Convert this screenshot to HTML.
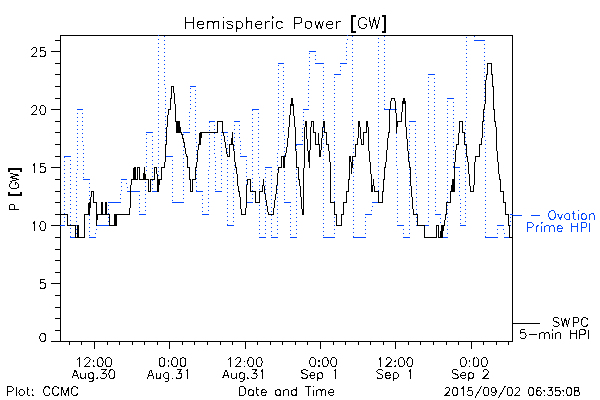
<!DOCTYPE html><html><head><meta charset="utf-8"><style>html,body{margin:0;padding:0;background:#fff}svg{display:block}</style></head><body><svg width="600" height="400" viewBox="0 0 600 400" shape-rendering="crispEdges">
<rect width="600" height="400" fill="#fff"/>
<g fill="none" stroke="#000" stroke-width="1">
<path d="M60.5 35.5 H512.5 V341.5 H60.5 Z"/>
<path d="M60.5 341.5 H51.0 M60.5 330.5 H55.0 M60.5 318.5 H55.0 M60.5 307.5 H55.0 M60.5 295.5 H55.0 M60.5 283.5 H51.0 M60.5 272.5 H55.0 M60.5 260.5 H55.0 M60.5 249.5 H55.0 M60.5 237.5 H55.0 M60.5 225.5 H51.0 M60.5 214.5 H55.0 M60.5 202.5 H55.0 M60.5 191.5 H55.0 M60.5 179.5 H55.0 M60.5 167.5 H51.0 M60.5 156.5 H55.0 M60.5 144.5 H55.0 M60.5 132.5 H55.0 M60.5 121.5 H55.0 M60.5 109.5 H51.0 M60.5 98.5 H55.0 M60.5 86.5 H55.0 M60.5 74.5 H55.0 M60.5 63.5 H55.0 M60.5 51.5 H51.0 M60.5 40.5 H55.0"/>
<path d="M69.5 341.5 V345.0 M81.5 341.5 V345.0 M94.5 341.5 V349.0 M107.5 341.5 V345.0 M119.5 341.5 V345.0 M132.5 341.5 V345.0 M144.5 341.5 V345.0 M157.5 341.5 V345.0 M169.5 341.5 V349.0 M182.5 341.5 V345.0 M194.5 341.5 V345.0 M207.5 341.5 V345.0 M220.5 341.5 V345.0 M232.5 341.5 V345.0 M245.5 341.5 V349.0 M257.5 341.5 V345.0 M270.5 341.5 V345.0 M282.5 341.5 V345.0 M295.5 341.5 V345.0 M307.5 341.5 V345.0 M320.5 341.5 V349.0 M333.5 341.5 V345.0 M345.5 341.5 V345.0 M358.5 341.5 V345.0 M370.5 341.5 V345.0 M383.5 341.5 V345.0 M395.5 341.5 V349.0 M408.5 341.5 V345.0 M420.5 341.5 V345.0 M433.5 341.5 V345.0 M446.5 341.5 V345.0 M458.5 341.5 V345.0 M471.5 341.5 V349.0 M483.5 341.5 V345.0 M496.5 341.5 V345.0 M508.5 341.5 V345.0"/>
</g>
<defs><clipPath id="cp"><rect x="60" y="35" width="453" height="307"/></clipPath></defs>
<g clip-path="url(#cp)" fill="none" stroke="#0548ff" stroke-width="1">
<path d="M60.0 225.5 H65.0 M64.0 156.5 H71.0 M70.0 237.5 H77.0 M77.0 109.5 H83.0 M83.0 179.5 H90.0 M89.0 237.5 H96.0 M96.0 225.5 H109.0 M108.0 202.5 H121.0 M121.0 179.5 H127.0 M127.0 191.5 H140.0 M139.0 214.5 H146.0 M146.0 132.5 H153.0 M152.0 191.5 H159.0 M158.0 16.5 H165.0 M165.0 156.5 H173.0 M172.0 202.5 H184.0 M183.0 132.5 H190.0 M190.0 86.5 H196.0 M196.0 191.5 H203.0 M202.0 214.5 H209.0 M209.0 121.5 H215.0 M215.0 191.5 H222.0 M221.0 132.5 H228.0 M227.0 225.5 H234.0 M234.0 121.5 H240.0 M240.0 156.5 H247.0 M246.0 202.5 H253.0 M252.0 109.5 H259.0 M259.0 237.5 H266.0 M265.0 167.5 H272.0 M271.0 237.5 H278.0 M278.0 63.5 H284.0 M284.0 202.5 H291.0 M290.0 237.5 H297.0 M296.0 144.5 H303.0 M303.0 109.5 H309.0 M309.0 51.5 H316.0 M315.0 63.5 H324.0 M323.0 237.5 H335.0 M334.0 74.5 H341.0 M340.0 63.5 H347.0 M347.0 16.5 H353.0 M353.0 237.5 H366.0 M365.0 214.5 H372.0 M372.0 202.5 H379.0 M378.0 16.5 H385.0 M384.0 109.5 H397.0 M397.0 225.5 H404.0 M403.0 237.5 H410.0 M409.0 121.5 H416.0 M416.0 225.5 H429.0 M428.0 74.5 H435.0 M435.0 214.5 H441.0 M441.0 237.5 H448.0 M447.0 98.5 H454.0 M453.0 167.5 H460.0 M460.0 225.5 H466.0 M466.0 16.5 H475.0 M474.0 40.5 H485.0 M485.0 237.5 H498.0 M497.0 225.5 H504.0 M504.0 237.5 H510.0 M510.0 214.5 H513.0"/>
<path d="M64.5 226.0 L64.5 156.5" stroke-dasharray="1 3"/>
<path d="M70.5 156.0 L70.5 237.5" stroke-dasharray="1 3"/>
<path d="M76.5 238.0 L77.5 109.5" stroke-dasharray="1 3"/>
<path d="M82.5 109.0 L83.5 179.5" stroke-dasharray="1 3"/>
<path d="M89.5 179.0 L89.5 237.5" stroke-dasharray="1 3"/>
<path d="M95.5 238.0 L96.5 225.5" stroke-dasharray="1 3"/>
<path d="M108.5 226.0 L108.5 202.5" stroke-dasharray="1 3"/>
<path d="M120.5 203.0 L121.5 179.5" stroke-dasharray="1 3"/>
<path d="M126.5 179.0 L127.5 191.5" stroke-dasharray="1 3"/>
<path d="M139.5 191.0 L139.5 214.5" stroke-dasharray="1 3"/>
<path d="M145.5 215.0 L146.5 132.5" stroke-dasharray="1 3"/>
<path d="M152.5 132.0 L152.5 191.5" stroke-dasharray="1 3"/>
<path d="M158.5 192.0 L158.5 16.5" stroke-dasharray="1 3"/>
<path d="M164.5 16.0 L165.5 156.5" stroke-dasharray="1 3"/>
<path d="M172.5 156.0 L172.5 202.5" stroke-dasharray="1 3"/>
<path d="M183.5 203.0 L183.5 132.5" stroke-dasharray="1 3"/>
<path d="M189.5 133.0 L190.5 86.5" stroke-dasharray="1 3"/>
<path d="M195.5 86.0 L196.5 191.5" stroke-dasharray="1 3"/>
<path d="M202.5 191.0 L202.5 214.5" stroke-dasharray="1 3"/>
<path d="M208.5 215.0 L209.5 121.5" stroke-dasharray="1 3"/>
<path d="M214.5 121.0 L215.5 191.5" stroke-dasharray="1 3"/>
<path d="M221.5 192.0 L221.5 132.5" stroke-dasharray="1 3"/>
<path d="M227.5 132.0 L227.5 225.5" stroke-dasharray="1 3"/>
<path d="M233.5 226.0 L234.5 121.5" stroke-dasharray="1 3"/>
<path d="M239.5 121.0 L240.5 156.5" stroke-dasharray="1 3"/>
<path d="M246.5 156.0 L246.5 202.5" stroke-dasharray="1 3"/>
<path d="M252.5 203.0 L252.5 109.5" stroke-dasharray="1 3"/>
<path d="M258.5 109.0 L259.5 237.5" stroke-dasharray="1 3"/>
<path d="M265.5 238.0 L265.5 167.5" stroke-dasharray="1 3"/>
<path d="M271.5 167.0 L271.5 237.5" stroke-dasharray="1 3"/>
<path d="M277.5 238.0 L278.5 63.5" stroke-dasharray="1 3"/>
<path d="M283.5 63.0 L284.5 202.5" stroke-dasharray="1 3"/>
<path d="M290.5 202.0 L290.5 237.5" stroke-dasharray="1 3"/>
<path d="M296.5 238.0 L296.5 144.5" stroke-dasharray="1 3"/>
<path d="M302.5 145.0 L303.5 109.5" stroke-dasharray="1 3"/>
<path d="M308.5 110.0 L309.5 51.5" stroke-dasharray="1 3"/>
<path d="M315.5 51.0 L315.5 63.5" stroke-dasharray="1 3"/>
<path d="M323.5 63.0 L323.5 237.5" stroke-dasharray="1 3"/>
<path d="M334.5 238.0 L334.5 74.5" stroke-dasharray="1 3"/>
<path d="M340.5 75.0 L340.5 63.5" stroke-dasharray="1 3"/>
<path d="M346.5 64.0 L347.5 16.5" stroke-dasharray="1 3"/>
<path d="M352.5 16.0 L353.5 237.5" stroke-dasharray="1 3"/>
<path d="M365.5 238.0 L365.5 214.5" stroke-dasharray="1 3"/>
<path d="M371.5 215.0 L372.5 202.5" stroke-dasharray="1 3"/>
<path d="M378.5 203.0 L378.5 16.5" stroke-dasharray="1 3"/>
<path d="M384.5 16.0 L384.5 109.5" stroke-dasharray="1 3"/>
<path d="M396.5 109.0 L397.5 225.5" stroke-dasharray="1 3"/>
<path d="M403.5 225.0 L403.5 237.5" stroke-dasharray="1 3"/>
<path d="M409.5 238.0 L409.5 121.5" stroke-dasharray="1 3"/>
<path d="M415.5 121.0 L416.5 225.5" stroke-dasharray="1 3"/>
<path d="M428.5 226.0 L428.5 74.5" stroke-dasharray="1 3"/>
<path d="M434.5 74.0 L435.5 214.5" stroke-dasharray="1 3"/>
<path d="M440.5 214.0 L441.5 237.5" stroke-dasharray="1 3"/>
<path d="M447.5 238.0 L447.5 98.5" stroke-dasharray="1 3"/>
<path d="M453.5 98.0 L453.5 167.5" stroke-dasharray="1 3"/>
<path d="M459.5 167.0 L460.5 225.5" stroke-dasharray="1 3"/>
<path d="M465.5 226.0 L466.5 16.5" stroke-dasharray="1 3"/>
<path d="M474.5 16.0 L474.5 40.5" stroke-dasharray="1 3"/>
<path d="M484.5 40.0 L485.5 237.5" stroke-dasharray="1 3"/>
<path d="M497.5 238.0 L497.5 225.5" stroke-dasharray="1 3"/>
<path d="M503.5 225.0 L504.5 237.5" stroke-dasharray="1 3"/>
<path d="M509.5 238.0 L510.5 214.5" stroke-dasharray="1 3"/>
</g>
<g clip-path="url(#cp)" fill="none" stroke="#000" stroke-width="1" stroke-linejoin="miter">
<path d="M60.5 214.5 L67.5 214.5 L67.5 225.5 L68.5 225.5 L74.5 225.5 L75.5 225.5 L75.5 237.5 L76.5 237.5 L77.5 237.5 L77.5 225.5 L78.5 225.5 L78.5 237.5 L79.5 237.5 L84.5 237.5 L84.5 214.5 L85.5 214.5 L88.5 214.5 L88.5 202.5 L88.5 214.5 L89.5 202.5 L89.5 214.5 L90.5 202.5 L91.5 191.5 L93.5 191.5 L93.5 202.5 L96.5 202.5 L96.5 225.5 L97.5 214.5 L101.5 214.5 L101.5 202.5 L102.5 202.5 L102.5 214.5 L103.5 214.5 L104.5 214.5 L105.5 214.5 L105.5 202.5 L106.5 202.5 L106.5 214.5 L107.5 214.5 L108.5 214.5 L109.5 214.5 L109.5 225.5 L114.5 225.5 L114.5 214.5 L115.5 225.5 L115.5 214.5 L116.5 225.5 L116.5 214.5 L117.5 214.5 L129.5 214.5 L130.5 202.5 L130.5 191.5 L131.5 179.5 L133.5 179.5 L133.5 167.5 L133.5 179.5 L134.5 167.5 L134.5 179.5 L134.5 167.5 L135.5 167.5 L135.5 179.5 L136.5 179.5 L137.5 179.5 L137.5 167.5 L139.5 167.5 L139.5 179.5 L140.5 179.5 L143.5 179.5 L143.5 173.5 L144.5 179.5 L144.5 167.5 L145.5 179.5 L147.5 179.5 L148.5 179.5 L148.5 191.5 L150.5 191.5 L150.5 179.5 L151.5 179.5 L153.5 179.5 L154.5 179.5 L154.5 167.5 L156.5 167.5 L157.5 179.5 L157.5 191.5 L158.5 179.5 L158.5 191.5 L159.5 179.5 L161.5 179.5 L161.5 167.5 L164.5 167.5 L165.5 156.5 L165.5 144.5 L166.5 144.5 L166.5 132.5 L167.5 121.5 L168.5 109.5 L169.5 109.5 L170.5 109.5 L170.5 98.5 L171.5 98.5 L171.5 86.5 L173.5 86.5 L174.5 98.5 L175.5 109.5 L175.5 121.5 L176.5 121.5 L176.5 132.5 L176.5 121.5 L177.5 132.5 L177.5 121.5 L178.5 132.5 L178.5 121.5 L179.5 132.5 L179.5 121.5 L180.5 132.5 L181.5 132.5 L184.5 144.5 L186.5 156.5 L187.5 156.5 L187.5 167.5 L188.5 167.5 L189.5 167.5 L189.5 179.5 L190.5 179.5 L190.5 191.5 L192.5 191.5 L192.5 179.5 L193.5 179.5 L194.5 179.5 L195.5 179.5 L195.5 167.5 L196.5 167.5 L197.5 156.5 L198.5 144.5 L199.5 144.5 L199.5 132.5 L199.5 144.5 L200.5 132.5 L200.5 144.5 L201.5 132.5 L216.5 132.5 L217.5 132.5 L217.5 121.5 L222.5 121.5 L222.5 132.5 L223.5 132.5 L225.5 144.5 L227.5 156.5 L229.5 156.5 L229.5 144.5 L231.5 144.5 L232.5 132.5 L232.5 144.5 L233.5 144.5 L234.5 156.5 L235.5 167.5 L236.5 167.5 L237.5 179.5 L238.5 191.5 L239.5 191.5 L240.5 202.5 L241.5 214.5 L245.5 214.5 L246.5 202.5 L246.5 191.5 L247.5 179.5 L250.5 179.5 L250.5 191.5 L254.5 191.5 L255.5 191.5 L255.5 202.5 L259.5 202.5 L259.5 191.5 L262.5 191.5 L263.5 179.5 L264.5 191.5 L266.5 202.5 L268.5 214.5 L273.5 214.5 L274.5 202.5 L276.5 191.5 L277.5 179.5 L278.5 167.5 L281.5 167.5 L281.5 156.5 L283.5 156.5 L283.5 167.5 L284.5 167.5 L284.5 156.5 L285.5 156.5 L287.5 144.5 L288.5 132.5 L289.5 121.5 L290.5 109.5 L291.5 98.5 L291.5 105.5 L292.5 98.5 L292.5 105.5 L292.5 98.5 L293.5 109.5 L294.5 121.5 L295.5 132.5 L295.5 144.5 L296.5 156.5 L296.5 167.5 L298.5 167.5 L298.5 179.5 L299.5 179.5 L300.5 191.5 L301.5 202.5 L302.5 214.5 L303.5 214.5 L303.5 202.5 L303.5 179.5 L304.5 156.5 L304.5 132.5 L305.5 121.5 L306.5 121.5 L306.5 132.5 L307.5 144.5 L308.5 156.5 L309.5 167.5 L309.5 156.5 L310.5 144.5 L310.5 132.5 L311.5 121.5 L313.5 121.5 L313.5 132.5 L315.5 132.5 L315.5 144.5 L318.5 144.5 L318.5 132.5 L318.5 144.5 L319.5 144.5 L319.5 156.5 L320.5 156.5 L321.5 144.5 L322.5 132.5 L323.5 121.5 L324.5 121.5 L324.5 132.5 L325.5 132.5 L326.5 132.5 L326.5 144.5 L327.5 144.5 L328.5 144.5 L329.5 156.5 L330.5 167.5 L330.5 179.5 L330.5 202.5 L334.5 202.5 L334.5 214.5 L336.5 214.5 L336.5 225.5 L341.5 225.5 L341.5 214.5 L343.5 214.5 L343.5 202.5 L346.5 202.5 L346.5 191.5 L348.5 191.5 L348.5 179.5 L349.5 179.5 L349.5 167.5 L349.5 156.5 L350.5 156.5 L351.5 167.5 L351.5 173.5 L351.5 167.5 L352.5 167.5 L352.5 156.5 L354.5 156.5 L355.5 156.5 L355.5 144.5 L357.5 144.5 L358.5 132.5 L358.5 121.5 L359.5 121.5 L360.5 132.5 L361.5 144.5 L363.5 144.5 L363.5 132.5 L364.5 132.5 L366.5 132.5 L366.5 121.5 L367.5 121.5 L368.5 132.5 L368.5 144.5 L369.5 156.5 L370.5 167.5 L371.5 179.5 L371.5 191.5 L371.5 184.5 L372.5 191.5 L372.5 184.5 L372.5 191.5 L373.5 179.5 L374.5 191.5 L378.5 191.5 L378.5 202.5 L382.5 202.5 L382.5 191.5 L383.5 191.5 L383.5 179.5 L384.5 179.5 L384.5 167.5 L385.5 167.5 L386.5 156.5 L387.5 144.5 L388.5 132.5 L389.5 132.5 L389.5 115.5 L390.5 103.5 L391.5 98.5 L394.5 98.5 L395.5 103.5 L396.5 121.5 L396.5 132.5 L397.5 121.5 L401.5 121.5 L402.5 103.5 L403.5 98.5 L403.5 103.5 L404.5 98.5 L404.5 103.5 L404.5 98.5 L405.5 103.5 L405.5 121.5 L406.5 132.5 L407.5 144.5 L408.5 156.5 L409.5 167.5 L410.5 167.5 L410.5 179.5 L411.5 191.5 L412.5 202.5 L413.5 214.5 L417.5 214.5 L417.5 225.5 L418.5 225.5 L423.5 225.5 L424.5 225.5 L424.5 237.5 L436.5 237.5 L436.5 225.5 L438.5 225.5 L438.5 237.5 L439.5 237.5 L440.5 237.5 L441.5 225.5 L441.5 237.5 L442.5 225.5 L442.5 237.5 L443.5 225.5 L444.5 225.5 L445.5 214.5 L446.5 214.5 L446.5 202.5 L449.5 202.5 L450.5 202.5 L450.5 191.5 L451.5 191.5 L452.5 179.5 L452.5 191.5 L452.5 179.5 L453.5 191.5 L453.5 179.5 L454.5 191.5 L454.5 179.5 L454.5 167.5 L455.5 156.5 L456.5 144.5 L457.5 144.5 L458.5 144.5 L459.5 121.5 L462.5 121.5 L462.5 132.5 L463.5 132.5 L464.5 132.5 L464.5 144.5 L466.5 144.5 L466.5 156.5 L467.5 156.5 L468.5 167.5 L469.5 179.5 L470.5 191.5 L473.5 191.5 L474.5 179.5 L474.5 167.5 L475.5 156.5 L478.5 156.5 L479.5 156.5 L479.5 144.5 L481.5 144.5 L482.5 132.5 L482.5 121.5 L483.5 121.5 L483.5 109.5 L484.5 109.5 L485.5 98.5 L485.5 86.5 L486.5 74.5 L487.5 74.5 L487.5 63.5 L491.5 63.5 L491.5 74.5 L492.5 74.5 L492.5 86.5 L493.5 86.5 L493.5 98.5 L493.5 109.5 L494.5 109.5 L494.5 121.5 L495.5 121.5 L496.5 132.5 L496.5 144.5 L497.5 156.5 L498.5 167.5 L499.5 179.5 L500.5 179.5 L500.5 191.5 L501.5 191.5 L503.5 191.5 L503.5 202.5 L505.5 202.5 L505.5 214.5 L508.5 214.5 L508.5 225.5 L509.5 225.5 L509.5 237.5 L512.5 237.5"/>
</g>
<path d="M513 215.5 H522 M531 215.5 H540" stroke="#0548ff" fill="none"/>
<path d="M513 323.5 H540" stroke="#000" fill="none"/>
<g><path d="M185.65 17.48 L185.65 28.50 M193.00 17.48 L193.00 28.50 M185.65 22.73 L193.00 22.73" fill="none" stroke="#000" stroke-width="1"/><path d="M197.38 24.30 L203.68 24.30 L203.68 23.25 L203.15 22.20 L202.62 21.68 L201.58 21.15 L200.00 21.15 L198.95 21.68 L197.90 22.73 L197.38 24.30 L197.38 25.35 L197.90 26.93 L198.95 27.98 L200.00 28.50 L201.58 28.50 L202.62 27.98 L203.68 26.93 M207.35 21.15 L207.35 28.50 M207.35 23.25 L208.93 21.68 L209.98 21.15 L211.55 21.15 L212.60 21.68 L213.12 23.25 L213.12 28.50 M213.12 23.25 L214.70 21.68 L215.75 21.15 L217.33 21.15 L218.38 21.68 L218.90 23.25 L218.90 28.50 M222.58 17.48 L223.10 18.00 L223.62 17.48 L223.10 16.95 L222.58 17.48 M223.10 21.15 L223.10 28.50 M232.55 22.73 L232.03 21.68 L230.45 21.15 L228.88 21.15 L227.30 21.68 L226.78 22.73 L227.30 23.77 L228.35 24.30 L230.98 24.82 L232.03 25.35 L232.55 26.40 L232.55 26.93 L232.03 27.98 L230.45 28.50 L228.88 28.50 L227.30 27.98 L226.78 26.93 M236.23 21.15 L236.23 32.17 M236.23 22.73 L237.28 21.68 L238.33 21.15 L239.90 21.15 L240.95 21.68 L242.00 22.73 L242.53 24.30 L242.53 25.35 L242.00 26.93 L240.95 27.98 L239.90 28.50 L238.33 28.50 L237.28 27.98 L236.23 26.93 M246.20 17.48 L246.20 28.50 M246.20 23.25 L247.78 21.68 L248.83 21.15 L250.40 21.15 L251.45 21.68 L251.98 23.25 L251.98 28.50 M255.65 24.30 L261.95 24.30 L261.95 23.25 L261.43 22.20 L260.90 21.68 L259.85 21.15 L258.28 21.15 L257.23 21.68 L256.18 22.73 L255.65 24.30 L255.65 25.35 L256.18 26.93 L257.23 27.98 L258.28 28.50 L259.85 28.50 L260.90 27.98 L261.95 26.93 M265.62 21.15 L265.62 28.50 M265.62 24.30 L266.15 22.73 L267.20 21.68 L268.25 21.15 L269.83 21.15 M271.93 17.48 L272.45 18.00 L272.98 17.48 L272.45 16.95 L271.93 17.48 M272.45 21.15 L272.45 28.50 M282.43 22.73 L281.38 21.68 L280.33 21.15 L278.75 21.15 L277.70 21.68 L276.65 22.73 L276.12 24.30 L276.12 25.35 L276.65 26.93 L277.70 27.98 L278.75 28.50 L280.33 28.50 L281.38 27.98 L282.43 26.93 M294.50 17.48 L294.50 28.50 M294.50 17.48 L299.23 17.48 L300.80 18.00 L301.33 18.52 L301.85 19.57 L301.85 21.15 L301.33 22.20 L300.80 22.73 L299.23 23.25 L294.50 23.25 M307.62 21.15 L306.58 21.68 L305.53 22.73 L305.00 24.30 L305.00 25.35 L305.53 26.93 L306.58 27.98 L307.62 28.50 L309.20 28.50 L310.25 27.98 L311.30 26.93 L311.83 25.35 L311.83 24.30 L311.30 22.73 L310.25 21.68 L309.20 21.15 L307.62 21.15 M314.98 21.15 L317.08 28.50 M319.18 21.15 L317.08 28.50 M319.18 21.15 L321.28 28.50 M323.38 21.15 L321.28 28.50 M326.52 24.30 L332.83 24.30 L332.83 23.25 L332.30 22.20 L331.77 21.68 L330.73 21.15 L329.15 21.15 L328.10 21.68 L327.05 22.73 L326.52 24.30 L326.52 25.35 L327.05 26.93 L328.10 27.98 L329.15 28.50 L330.73 28.50 L331.77 27.98 L332.83 26.93 M336.50 21.15 L336.50 28.50 M336.50 24.30 L337.02 22.73 L338.08 21.68 L339.12 21.15 L340.70 21.15 M366.43 20.10 L365.90 19.05 L364.85 18.00 L363.80 17.48 L361.70 17.48 L360.65 18.00 L359.60 19.05 L359.08 20.10 L358.55 21.68 L358.55 24.30 L359.08 25.88 L359.60 26.93 L360.65 27.98 L361.70 28.50 L363.80 28.50 L364.85 27.98 L365.90 26.93 L366.43 25.88 L366.43 24.30 M363.80 24.30 L366.43 24.30 M369.05 17.48 L371.68 28.50 M374.30 17.48 L371.68 28.50 M374.30 17.48 L376.93 28.50 M379.55 17.48 L376.93 28.50" fill="none" stroke="#000" stroke-width="1"/><path d="M356 16 H352 V32 H356 M381.5 16 H385 V32 H381.5" fill="none" stroke="#000" stroke-width="2"/><path d="M9.68 209.92 L18.50 209.92 M9.68 209.92 L9.68 206.14 L10.10 204.88 L10.52 204.46 L11.36 204.04 L12.62 204.04 L13.46 204.46 L13.88 204.88 L14.30 206.14 L14.30 209.92 M11.78 182.62 L10.94 183.04 L10.10 183.88 L9.68 184.72 L9.68 186.40 L10.10 187.24 L10.94 188.08 L11.78 188.50 L13.04 188.92 L15.14 188.92 L16.40 188.50 L17.24 188.08 L18.08 187.24 L18.50 186.40 L18.50 184.72 L18.08 183.88 L17.24 183.04 L16.40 182.62 L15.14 182.62 M15.14 184.72 L15.14 182.62" fill="none" stroke="#000" stroke-width="1"/><path d="M9.68 181.52 L18.50 179.42 M9.68 177.32 L18.50 179.42 M9.68 177.32 L18.50 175.22 M9.68 173.12 L18.50 175.22" fill="none" stroke="#000" stroke-width="1"/><path d="M9 192 V195 H21 V192 M9 172 V169 H21 V172" fill="none" stroke="#000" stroke-width="2"/><path d="M42.38 333.42 L41.12 333.80 L40.28 334.95 L39.86 336.88 L39.86 338.04 L40.28 339.96 L41.12 341.12 L42.38 341.50 L43.22 341.50 L44.48 341.12 L45.32 339.96 L45.74 338.04 L45.74 336.88 L45.32 334.95 L44.48 333.80 L43.22 333.42 L42.38 333.42" fill="none" stroke="#000" stroke-width="1"/><path d="M44.90 279.68 L40.70 279.68 L40.28 283.46 L40.70 283.04 L41.96 282.62 L43.22 282.62 L44.48 283.04 L45.32 283.88 L45.74 285.14 L45.74 285.98 L45.32 287.24 L44.48 288.08 L43.22 288.50 L41.96 288.50 L40.70 288.08 L40.28 287.66 L39.86 286.82" fill="none" stroke="#000" stroke-width="1"/><path d="M32.72 223.36 L33.56 222.94 L34.82 221.68 L34.82 230.50 M42.38 221.68 L41.12 222.10 L40.28 223.36 L39.86 225.46 L39.86 226.72 L40.28 228.82 L41.12 230.08 L42.38 230.50 L43.22 230.50 L44.48 230.08 L45.32 228.82 L45.74 226.72 L45.74 225.46 L45.32 223.36 L44.48 222.10 L43.22 221.68 L42.38 221.68" fill="none" stroke="#000" stroke-width="1"/><path d="M32.72 165.36 L33.56 164.94 L34.82 163.68 L34.82 172.50 M44.90 163.68 L40.70 163.68 L40.28 167.46 L40.70 167.04 L41.96 166.62 L43.22 166.62 L44.48 167.04 L45.32 167.88 L45.74 169.14 L45.74 169.98 L45.32 171.24 L44.48 172.08 L43.22 172.50 L41.96 172.50 L40.70 172.08 L40.28 171.66 L39.86 170.82" fill="none" stroke="#000" stroke-width="1"/><path d="M31.88 107.78 L31.88 107.36 L32.30 106.52 L32.72 106.10 L33.56 105.68 L35.24 105.68 L36.08 106.10 L36.50 106.52 L36.92 107.36 L36.92 108.20 L36.50 109.04 L35.66 110.30 L31.46 114.50 L37.34 114.50 M42.38 105.68 L41.12 106.10 L40.28 107.36 L39.86 109.46 L39.86 110.72 L40.28 112.82 L41.12 114.08 L42.38 114.50 L43.22 114.50 L44.48 114.08 L45.32 112.82 L45.74 110.72 L45.74 109.46 L45.32 107.36 L44.48 106.10 L43.22 105.68 L42.38 105.68" fill="none" stroke="#000" stroke-width="1"/><path d="M31.88 49.78 L31.88 49.36 L32.30 48.52 L32.72 48.10 L33.56 47.68 L35.24 47.68 L36.08 48.10 L36.50 48.52 L36.92 49.36 L36.92 50.20 L36.50 51.04 L35.66 52.30 L31.46 56.50 L37.34 56.50 M44.90 47.68 L40.70 47.68 L40.28 51.46 L40.70 51.04 L41.96 50.62 L43.22 50.62 L44.48 51.04 L45.32 51.88 L45.74 53.14 L45.74 53.98 L45.32 55.24 L44.48 56.08 L43.22 56.50 L41.96 56.50 L40.70 56.08 L40.28 55.66 L39.86 54.82" fill="none" stroke="#000" stroke-width="1"/><path d="M77.42 359.36 L78.26 358.94 L79.52 357.68 L79.52 366.50 M84.98 359.78 L84.98 359.36 L85.40 358.52 L85.82 358.10 L86.66 357.68 L88.34 357.68 L89.18 358.10 L89.60 358.52 L90.02 359.36 L90.02 360.20 L89.60 361.04 L88.76 362.30 L84.56 366.50 L90.44 366.50 M93.80 360.62 L93.38 361.04 L93.80 361.46 L94.22 361.04 L93.80 360.62 M93.80 365.66 L93.38 366.08 L93.80 366.50 L94.22 366.08 L93.80 365.66 M99.68 357.68 L98.42 358.10 L97.58 359.36 L97.16 361.46 L97.16 362.72 L97.58 364.82 L98.42 366.08 L99.68 366.50 L100.52 366.50 L101.78 366.08 L102.62 364.82 L103.04 362.72 L103.04 361.46 L102.62 359.36 L101.78 358.10 L100.52 357.68 L99.68 357.68 M108.08 357.68 L106.82 358.10 L105.98 359.36 L105.56 361.46 L105.56 362.72 L105.98 364.82 L106.82 366.08 L108.08 366.50 L108.92 366.50 L110.18 366.08 L111.02 364.82 L111.44 362.72 L111.44 361.46 L111.02 359.36 L110.18 358.10 L108.92 357.68 L108.08 357.68" fill="none" stroke="#000" stroke-width="1"/><path d="M75.32 369.68 L71.96 378.50 M75.32 369.68 L78.68 378.50 M73.22 375.56 L77.42 375.56 M80.78 372.62 L80.78 376.82 L81.20 378.08 L82.04 378.50 L83.30 378.50 L84.14 378.08 L85.40 376.82 M85.40 372.62 L85.40 378.50 M93.38 372.62 L93.38 379.34 L92.96 380.60 L92.54 381.02 L91.70 381.44 L90.44 381.44 L89.60 381.02 M93.38 373.88 L92.54 373.04 L91.70 372.62 L90.44 372.62 L89.60 373.04 L88.76 373.88 L88.34 375.14 L88.34 375.98 L88.76 377.24 L89.60 378.08 L90.44 378.50 L91.70 378.50 L92.54 378.08 L93.38 377.24 M97.16 377.66 L96.74 378.08 L97.16 378.50 L97.58 378.08 L97.16 377.66 M101.36 369.68 L105.98 369.68 L103.46 373.04 L104.72 373.04 L105.56 373.46 L105.98 373.88 L106.40 375.14 L106.40 375.98 L105.98 377.24 L105.14 378.08 L103.88 378.50 L102.62 378.50 L101.36 378.08 L100.94 377.66 L100.52 376.82 M111.44 369.68 L110.18 370.10 L109.34 371.36 L108.92 373.46 L108.92 374.72 L109.34 376.82 L110.18 378.08 L111.44 378.50 L112.28 378.50 L113.54 378.08 L114.38 376.82 L114.80 374.72 L114.80 373.46 L114.38 371.36 L113.54 370.10 L112.28 369.68 L111.44 369.68" fill="none" stroke="#000" stroke-width="1"/><path d="M161.58 357.68 L160.32 358.10 L159.48 359.36 L159.06 361.46 L159.06 362.72 L159.48 364.82 L160.32 366.08 L161.58 366.50 L162.42 366.50 L163.68 366.08 L164.52 364.82 L164.94 362.72 L164.94 361.46 L164.52 359.36 L163.68 358.10 L162.42 357.68 L161.58 357.68 M168.30 360.62 L167.88 361.04 L168.30 361.46 L168.72 361.04 L168.30 360.62 M168.30 365.66 L167.88 366.08 L168.30 366.50 L168.72 366.08 L168.30 365.66 M174.18 357.68 L172.92 358.10 L172.08 359.36 L171.66 361.46 L171.66 362.72 L172.08 364.82 L172.92 366.08 L174.18 366.50 L175.02 366.50 L176.28 366.08 L177.12 364.82 L177.54 362.72 L177.54 361.46 L177.12 359.36 L176.28 358.10 L175.02 357.68 L174.18 357.68 M182.58 357.68 L181.32 358.10 L180.48 359.36 L180.06 361.46 L180.06 362.72 L180.48 364.82 L181.32 366.08 L182.58 366.50 L183.42 366.50 L184.68 366.08 L185.52 364.82 L185.94 362.72 L185.94 361.46 L185.52 359.36 L184.68 358.10 L183.42 357.68 L182.58 357.68" fill="none" stroke="#000" stroke-width="1"/><path d="M150.66 369.68 L147.30 378.50 M150.66 369.68 L154.02 378.50 M148.56 375.56 L152.76 375.56 M156.12 372.62 L156.12 376.82 L156.54 378.08 L157.38 378.50 L158.64 378.50 L159.48 378.08 L160.74 376.82 M160.74 372.62 L160.74 378.50 M168.72 372.62 L168.72 379.34 L168.30 380.60 L167.88 381.02 L167.04 381.44 L165.78 381.44 L164.94 381.02 M168.72 373.88 L167.88 373.04 L167.04 372.62 L165.78 372.62 L164.94 373.04 L164.10 373.88 L163.68 375.14 L163.68 375.98 L164.10 377.24 L164.94 378.08 L165.78 378.50 L167.04 378.50 L167.88 378.08 L168.72 377.24 M172.50 377.66 L172.08 378.08 L172.50 378.50 L172.92 378.08 L172.50 377.66 M176.70 369.68 L181.32 369.68 L178.80 373.04 L180.06 373.04 L180.90 373.46 L181.32 373.88 L181.74 375.14 L181.74 375.98 L181.32 377.24 L180.48 378.08 L179.22 378.50 L177.96 378.50 L176.70 378.08 L176.28 377.66 L175.86 376.82 M185.52 371.36 L186.36 370.94 L187.62 369.68 L187.62 378.50" fill="none" stroke="#000" stroke-width="1"/><path d="M228.09 359.36 L228.93 358.94 L230.19 357.68 L230.19 366.50 M235.65 359.78 L235.65 359.36 L236.07 358.52 L236.49 358.10 L237.33 357.68 L239.01 357.68 L239.85 358.10 L240.27 358.52 L240.69 359.36 L240.69 360.20 L240.27 361.04 L239.43 362.30 L235.23 366.50 L241.11 366.50 M244.47 360.62 L244.05 361.04 L244.47 361.46 L244.89 361.04 L244.47 360.62 M244.47 365.66 L244.05 366.08 L244.47 366.50 L244.89 366.08 L244.47 365.66 M250.35 357.68 L249.09 358.10 L248.25 359.36 L247.83 361.46 L247.83 362.72 L248.25 364.82 L249.09 366.08 L250.35 366.50 L251.19 366.50 L252.45 366.08 L253.29 364.82 L253.71 362.72 L253.71 361.46 L253.29 359.36 L252.45 358.10 L251.19 357.68 L250.35 357.68 M258.75 357.68 L257.49 358.10 L256.65 359.36 L256.23 361.46 L256.23 362.72 L256.65 364.82 L257.49 366.08 L258.75 366.50 L259.59 366.50 L260.85 366.08 L261.69 364.82 L262.11 362.72 L262.11 361.46 L261.69 359.36 L260.85 358.10 L259.59 357.68 L258.75 357.68" fill="none" stroke="#000" stroke-width="1"/><path d="M225.99 369.68 L222.63 378.50 M225.99 369.68 L229.35 378.50 M223.89 375.56 L228.09 375.56 M231.45 372.62 L231.45 376.82 L231.87 378.08 L232.71 378.50 L233.97 378.50 L234.81 378.08 L236.07 376.82 M236.07 372.62 L236.07 378.50 M244.05 372.62 L244.05 379.34 L243.63 380.60 L243.21 381.02 L242.37 381.44 L241.11 381.44 L240.27 381.02 M244.05 373.88 L243.21 373.04 L242.37 372.62 L241.11 372.62 L240.27 373.04 L239.43 373.88 L239.01 375.14 L239.01 375.98 L239.43 377.24 L240.27 378.08 L241.11 378.50 L242.37 378.50 L243.21 378.08 L244.05 377.24 M247.83 377.66 L247.41 378.08 L247.83 378.50 L248.25 378.08 L247.83 377.66 M252.03 369.68 L256.65 369.68 L254.13 373.04 L255.39 373.04 L256.23 373.46 L256.65 373.88 L257.07 375.14 L257.07 375.98 L256.65 377.24 L255.81 378.08 L254.55 378.50 L253.29 378.50 L252.03 378.08 L251.61 377.66 L251.19 376.82 M260.85 371.36 L261.69 370.94 L262.95 369.68 L262.95 378.50" fill="none" stroke="#000" stroke-width="1"/><path d="M312.25 357.68 L310.99 358.10 L310.15 359.36 L309.73 361.46 L309.73 362.72 L310.15 364.82 L310.99 366.08 L312.25 366.50 L313.09 366.50 L314.35 366.08 L315.19 364.82 L315.61 362.72 L315.61 361.46 L315.19 359.36 L314.35 358.10 L313.09 357.68 L312.25 357.68 M318.97 360.62 L318.55 361.04 L318.97 361.46 L319.39 361.04 L318.97 360.62 M318.97 365.66 L318.55 366.08 L318.97 366.50 L319.39 366.08 L318.97 365.66 M324.85 357.68 L323.59 358.10 L322.75 359.36 L322.33 361.46 L322.33 362.72 L322.75 364.82 L323.59 366.08 L324.85 366.50 L325.69 366.50 L326.95 366.08 L327.79 364.82 L328.21 362.72 L328.21 361.46 L327.79 359.36 L326.95 358.10 L325.69 357.68 L324.85 357.68 M333.25 357.68 L331.99 358.10 L331.15 359.36 L330.73 361.46 L330.73 362.72 L331.15 364.82 L331.99 366.08 L333.25 366.50 L334.09 366.50 L335.35 366.08 L336.19 364.82 L336.61 362.72 L336.61 361.46 L336.19 359.36 L335.35 358.10 L334.09 357.68 L333.25 357.68" fill="none" stroke="#000" stroke-width="1"/><path d="M307.42 370.94 L306.58 370.10 L305.32 369.68 L303.64 369.68 L302.38 370.10 L301.54 370.94 L301.54 371.78 L301.96 372.62 L302.38 373.04 L303.22 373.46 L305.74 374.30 L306.58 374.72 L307.00 375.14 L307.42 375.98 L307.42 377.24 L306.58 378.08 L305.32 378.50 L303.64 378.50 L302.38 378.08 L301.54 377.24 M309.94 375.14 L314.98 375.14 L314.98 374.30 L314.56 373.46 L314.14 373.04 L313.30 372.62 L312.04 372.62 L311.20 373.04 L310.36 373.88 L309.94 375.14 L309.94 375.98 L310.36 377.24 L311.20 378.08 L312.04 378.50 L313.30 378.50 L314.14 378.08 L314.98 377.24 M317.92 372.62 L317.92 381.44 M317.92 373.88 L318.76 373.04 L319.60 372.62 L320.86 372.62 L321.70 373.04 L322.54 373.88 L322.96 375.14 L322.96 375.98 L322.54 377.24 L321.70 378.08 L320.86 378.50 L319.60 378.50 L318.76 378.08 L317.92 377.24 M333.46 371.36 L334.30 370.94 L335.56 369.68 L335.56 378.50" fill="none" stroke="#000" stroke-width="1"/><path d="M378.76 359.36 L379.60 358.94 L380.86 357.68 L380.86 366.50 M386.32 359.78 L386.32 359.36 L386.74 358.52 L387.16 358.10 L388.00 357.68 L389.68 357.68 L390.52 358.10 L390.94 358.52 L391.36 359.36 L391.36 360.20 L390.94 361.04 L390.10 362.30 L385.90 366.50 L391.78 366.50 M395.14 360.62 L394.72 361.04 L395.14 361.46 L395.56 361.04 L395.14 360.62 M395.14 365.66 L394.72 366.08 L395.14 366.50 L395.56 366.08 L395.14 365.66 M401.02 357.68 L399.76 358.10 L398.92 359.36 L398.50 361.46 L398.50 362.72 L398.92 364.82 L399.76 366.08 L401.02 366.50 L401.86 366.50 L403.12 366.08 L403.96 364.82 L404.38 362.72 L404.38 361.46 L403.96 359.36 L403.12 358.10 L401.86 357.68 L401.02 357.68 M409.42 357.68 L408.16 358.10 L407.32 359.36 L406.90 361.46 L406.90 362.72 L407.32 364.82 L408.16 366.08 L409.42 366.50 L410.26 366.50 L411.52 366.08 L412.36 364.82 L412.78 362.72 L412.78 361.46 L412.36 359.36 L411.52 358.10 L410.26 357.68 L409.42 357.68" fill="none" stroke="#000" stroke-width="1"/><path d="M382.75 370.94 L381.91 370.10 L380.65 369.68 L378.97 369.68 L377.71 370.10 L376.87 370.94 L376.87 371.78 L377.29 372.62 L377.71 373.04 L378.55 373.46 L381.07 374.30 L381.91 374.72 L382.33 375.14 L382.75 375.98 L382.75 377.24 L381.91 378.08 L380.65 378.50 L378.97 378.50 L377.71 378.08 L376.87 377.24 M385.27 375.14 L390.31 375.14 L390.31 374.30 L389.89 373.46 L389.47 373.04 L388.63 372.62 L387.37 372.62 L386.53 373.04 L385.69 373.88 L385.27 375.14 L385.27 375.98 L385.69 377.24 L386.53 378.08 L387.37 378.50 L388.63 378.50 L389.47 378.08 L390.31 377.24 M393.25 372.62 L393.25 381.44 M393.25 373.88 L394.09 373.04 L394.93 372.62 L396.19 372.62 L397.03 373.04 L397.87 373.88 L398.29 375.14 L398.29 375.98 L397.87 377.24 L397.03 378.08 L396.19 378.50 L394.93 378.50 L394.09 378.08 L393.25 377.24 M408.79 371.36 L409.63 370.94 L410.89 369.68 L410.89 378.50" fill="none" stroke="#000" stroke-width="1"/><path d="M462.92 357.68 L461.66 358.10 L460.82 359.36 L460.40 361.46 L460.40 362.72 L460.82 364.82 L461.66 366.08 L462.92 366.50 L463.76 366.50 L465.02 366.08 L465.86 364.82 L466.28 362.72 L466.28 361.46 L465.86 359.36 L465.02 358.10 L463.76 357.68 L462.92 357.68 M469.64 360.62 L469.22 361.04 L469.64 361.46 L470.06 361.04 L469.64 360.62 M469.64 365.66 L469.22 366.08 L469.64 366.50 L470.06 366.08 L469.64 365.66 M475.52 357.68 L474.26 358.10 L473.42 359.36 L473.00 361.46 L473.00 362.72 L473.42 364.82 L474.26 366.08 L475.52 366.50 L476.36 366.50 L477.62 366.08 L478.46 364.82 L478.88 362.72 L478.88 361.46 L478.46 359.36 L477.62 358.10 L476.36 357.68 L475.52 357.68 M483.92 357.68 L482.66 358.10 L481.82 359.36 L481.40 361.46 L481.40 362.72 L481.82 364.82 L482.66 366.08 L483.92 366.50 L484.76 366.50 L486.02 366.08 L486.86 364.82 L487.28 362.72 L487.28 361.46 L486.86 359.36 L486.02 358.10 L484.76 357.68 L483.92 357.68" fill="none" stroke="#000" stroke-width="1"/><path d="M458.09 370.94 L457.25 370.10 L455.99 369.68 L454.31 369.68 L453.05 370.10 L452.21 370.94 L452.21 371.78 L452.63 372.62 L453.05 373.04 L453.89 373.46 L456.41 374.30 L457.25 374.72 L457.67 375.14 L458.09 375.98 L458.09 377.24 L457.25 378.08 L455.99 378.50 L454.31 378.50 L453.05 378.08 L452.21 377.24 M460.61 375.14 L465.65 375.14 L465.65 374.30 L465.23 373.46 L464.81 373.04 L463.97 372.62 L462.71 372.62 L461.87 373.04 L461.03 373.88 L460.61 375.14 L460.61 375.98 L461.03 377.24 L461.87 378.08 L462.71 378.50 L463.97 378.50 L464.81 378.08 L465.65 377.24 M468.59 372.62 L468.59 381.44 M468.59 373.88 L469.43 373.04 L470.27 372.62 L471.53 372.62 L472.37 373.04 L473.21 373.88 L473.63 375.14 L473.63 375.98 L473.21 377.24 L472.37 378.08 L471.53 378.50 L470.27 378.50 L469.43 378.08 L468.59 377.24 M483.29 371.78 L483.29 371.36 L483.71 370.52 L484.13 370.10 L484.97 369.68 L486.65 369.68 L487.49 370.10 L487.91 370.52 L488.33 371.36 L488.33 372.20 L487.91 373.04 L487.07 374.30 L482.87 378.50 L488.75 378.50" fill="none" stroke="#000" stroke-width="1"/><path d="M7.18 386.68 L7.18 395.50 M7.18 386.68 L10.96 386.68 L12.22 387.10 L12.64 387.52 L13.06 388.36 L13.06 389.62 L12.64 390.46 L12.22 390.88 L10.96 391.30 L7.18 391.30 M16.00 386.68 L16.00 395.50 M21.04 389.62 L20.20 390.04 L19.36 390.88 L18.94 392.14 L18.94 392.98 L19.36 394.24 L20.20 395.08 L21.04 395.50 L22.30 395.50 L23.14 395.08 L23.98 394.24 L24.40 392.98 L24.40 392.14 L23.98 390.88 L23.14 390.04 L22.30 389.62 L21.04 389.62 M27.76 386.68 L27.76 393.82 L28.18 395.08 L29.02 395.50 L29.86 395.50 M26.50 389.62 L29.44 389.62 M32.80 389.62 L32.38 390.04 L32.80 390.46 L33.22 390.04 L32.80 389.62 M32.80 394.66 L32.38 395.08 L32.80 395.50 L33.22 395.08 L32.80 394.66" fill="none" stroke="#000" stroke-width="1"/><path d="M49.98 388.78 L49.56 387.94 L48.72 387.10 L47.88 386.68 L46.20 386.68 L45.36 387.10 L44.52 387.94 L44.10 388.78 L43.68 390.04 L43.68 392.14 L44.10 393.40 L44.52 394.24 L45.36 395.08 L46.20 395.50 L47.88 395.50 L48.72 395.08 L49.56 394.24 L49.98 393.40 M58.80 388.78 L58.38 387.94 L57.54 387.10 L56.70 386.68 L55.02 386.68 L54.18 387.10 L53.34 387.94 L52.92 388.78 L52.50 390.04 L52.50 392.14 L52.92 393.40 L53.34 394.24 L54.18 395.08 L55.02 395.50 L56.70 395.50 L57.54 395.08 L58.38 394.24 L58.80 393.40 M61.74 386.68 L61.74 395.50 M61.74 386.68 L65.10 395.50 M68.46 386.68 L65.10 395.50 M68.46 386.68 L68.46 395.50 M77.70 388.78 L77.28 387.94 L76.44 387.10 L75.60 386.68 L73.92 386.68 L73.08 387.10 L72.24 387.94 L71.82 388.78 L71.40 390.04 L71.40 392.14 L71.82 393.40 L72.24 394.24 L73.08 395.08 L73.92 395.50 L75.60 395.50 L76.44 395.08 L77.28 394.24 L77.70 393.40" fill="none" stroke="#000" stroke-width="1"/><path d="M239.67 386.68 L239.67 395.50 M239.67 386.68 L242.61 386.68 L243.87 387.10 L244.71 387.94 L245.13 388.78 L245.55 390.04 L245.55 392.14 L245.13 393.40 L244.71 394.24 L243.87 395.08 L242.61 395.50 L239.67 395.50 M253.11 389.62 L253.11 395.50 M253.11 390.88 L252.27 390.04 L251.43 389.62 L250.17 389.62 L249.33 390.04 L248.49 390.88 L248.07 392.14 L248.07 392.98 L248.49 394.24 L249.33 395.08 L250.17 395.50 L251.43 395.50 L252.27 395.08 L253.11 394.24 M256.89 386.68 L256.89 393.82 L257.31 395.08 L258.15 395.50 L258.99 395.50 M255.63 389.62 L258.57 389.62 M261.09 392.14 L266.13 392.14 L266.13 391.30 L265.71 390.46 L265.29 390.04 L264.45 389.62 L263.19 389.62 L262.35 390.04 L261.51 390.88 L261.09 392.14 L261.09 392.98 L261.51 394.24 L262.35 395.08 L263.19 395.50 L264.45 395.50 L265.29 395.08 L266.13 394.24 M280.41 389.62 L280.41 395.50 M280.41 390.88 L279.57 390.04 L278.73 389.62 L277.47 389.62 L276.63 390.04 L275.79 390.88 L275.37 392.14 L275.37 392.98 L275.79 394.24 L276.63 395.08 L277.47 395.50 L278.73 395.50 L279.57 395.08 L280.41 394.24 M283.77 389.62 L283.77 395.50 M283.77 391.30 L285.03 390.04 L285.87 389.62 L287.13 389.62 L287.97 390.04 L288.39 391.30 L288.39 395.50 M296.37 386.68 L296.37 395.50 M296.37 390.88 L295.53 390.04 L294.69 389.62 L293.43 389.62 L292.59 390.04 L291.75 390.88 L291.33 392.14 L291.33 392.98 L291.75 394.24 L292.59 395.08 L293.43 395.50 L294.69 395.50 L295.53 395.08 L296.37 394.24 M308.13 386.68 L308.13 395.50 M305.19 386.68 L311.07 386.68 M312.75 386.68 L313.17 387.10 L313.59 386.68 L313.17 386.26 L312.75 386.68 M313.17 389.62 L313.17 395.50 M316.53 389.62 L316.53 395.50 M316.53 391.30 L317.79 390.04 L318.63 389.62 L319.89 389.62 L320.73 390.04 L321.15 391.30 L321.15 395.50 M321.15 391.30 L322.41 390.04 L323.25 389.62 L324.51 389.62 L325.35 390.04 L325.77 391.30 L325.77 395.50 M328.71 392.14 L333.75 392.14 L333.75 391.30 L333.33 390.46 L332.91 390.04 L332.07 389.62 L330.81 389.62 L329.97 390.04 L329.13 390.88 L328.71 392.14 L328.71 392.98 L329.13 394.24 L329.97 395.08 L330.81 395.50 L332.07 395.50 L332.91 395.08 L333.75 394.24" fill="none" stroke="#000" stroke-width="1"/><path d="M445.22 389.42 L445.22 389.04 L445.60 388.28 L445.98 387.90 L446.74 387.52 L448.26 387.52 L449.02 387.90 L449.40 388.28 L449.78 389.04 L449.78 389.80 L449.40 390.56 L448.64 391.70 L444.84 395.50 L450.16 395.50 M454.72 387.52 L453.58 387.90 L452.82 389.04 L452.44 390.94 L452.44 392.08 L452.82 393.98 L453.58 395.12 L454.72 395.50 L455.48 395.50 L456.62 395.12 L457.38 393.98 L457.76 392.08 L457.76 390.94 L457.38 389.04 L456.62 387.90 L455.48 387.52 L454.72 387.52 M461.18 389.04 L461.94 388.66 L463.08 387.52 L463.08 395.50 M472.20 387.52 L468.40 387.52 L468.02 390.94 L468.40 390.56 L469.54 390.18 L470.68 390.18 L471.82 390.56 L472.58 391.32 L472.96 392.46 L472.96 393.22 L472.58 394.36 L471.82 395.12 L470.68 395.50 L469.54 395.50 L468.40 395.12 L468.02 394.74 L467.64 393.98 M481.70 386.00 L474.86 398.16 M485.88 387.52 L484.74 387.90 L483.98 389.04 L483.60 390.94 L483.60 392.08 L483.98 393.98 L484.74 395.12 L485.88 395.50 L486.64 395.50 L487.78 395.12 L488.54 393.98 L488.92 392.08 L488.92 390.94 L488.54 389.04 L487.78 387.90 L486.64 387.52 L485.88 387.52 M496.14 390.18 L495.76 391.32 L495.00 392.08 L493.86 392.46 L493.48 392.46 L492.34 392.08 L491.58 391.32 L491.20 390.18 L491.20 389.80 L491.58 388.66 L492.34 387.90 L493.48 387.52 L493.86 387.52 L495.00 387.90 L495.76 388.66 L496.14 390.18 L496.14 392.08 L495.76 393.98 L495.00 395.12 L493.86 395.50 L493.10 395.50 L491.96 395.12 L491.58 394.36 M505.26 386.00 L498.42 398.16 M509.44 387.52 L508.30 387.90 L507.54 389.04 L507.16 390.94 L507.16 392.08 L507.54 393.98 L508.30 395.12 L509.44 395.50 L510.20 395.50 L511.34 395.12 L512.10 393.98 L512.48 392.08 L512.48 390.94 L512.10 389.04 L511.34 387.90 L510.20 387.52 L509.44 387.52 M515.14 389.42 L515.14 389.04 L515.52 388.28 L515.90 387.90 L516.66 387.52 L518.18 387.52 L518.94 387.90 L519.32 388.28 L519.70 389.04 L519.70 389.80 L519.32 390.56 L518.56 391.70 L514.76 395.50 L520.08 395.50 M530.72 387.52 L529.58 387.90 L528.82 389.04 L528.44 390.94 L528.44 392.08 L528.82 393.98 L529.58 395.12 L530.72 395.50 L531.48 395.50 L532.62 395.12 L533.38 393.98 L533.76 392.08 L533.76 390.94 L533.38 389.04 L532.62 387.90 L531.48 387.52 L530.72 387.52 M540.98 388.66 L540.60 387.90 L539.46 387.52 L538.70 387.52 L537.56 387.90 L536.80 389.04 L536.42 390.94 L536.42 392.84 L536.80 394.36 L537.56 395.12 L538.70 395.50 L539.08 395.50 L540.22 395.12 L540.98 394.36 L541.36 393.22 L541.36 392.84 L540.98 391.70 L540.22 390.94 L539.08 390.56 L538.70 390.56 L537.56 390.94 L536.80 391.70 L536.42 392.84 M544.40 390.18 L544.02 390.56 L544.40 390.94 L544.78 390.56 L544.40 390.18 M544.40 394.74 L544.02 395.12 L544.40 395.50 L544.78 395.12 L544.40 394.74 M548.20 387.52 L552.38 387.52 L550.10 390.56 L551.24 390.56 L552.00 390.94 L552.38 391.32 L552.76 392.46 L552.76 393.22 L552.38 394.36 L551.62 395.12 L550.48 395.50 L549.34 395.50 L548.20 395.12 L547.82 394.74 L547.44 393.98 M559.60 387.52 L555.80 387.52 L555.42 390.94 L555.80 390.56 L556.94 390.18 L558.08 390.18 L559.22 390.56 L559.98 391.32 L560.36 392.46 L560.36 393.22 L559.98 394.36 L559.22 395.12 L558.08 395.50 L556.94 395.50 L555.80 395.12 L555.42 394.74 L555.04 393.98 M563.40 390.18 L563.02 390.56 L563.40 390.94 L563.78 390.56 L563.40 390.18 M563.40 394.74 L563.02 395.12 L563.40 395.50 L563.78 395.12 L563.40 394.74 M568.72 387.52 L567.58 387.90 L566.82 389.04 L566.44 390.94 L566.44 392.08 L566.82 393.98 L567.58 395.12 L568.72 395.50 L569.48 395.50 L570.62 395.12 L571.38 393.98 L571.76 392.08 L571.76 390.94 L571.38 389.04 L570.62 387.90 L569.48 387.52 L568.72 387.52 M575.94 387.52 L574.80 387.90 L574.42 388.66 L574.42 389.42 L574.80 390.18 L575.56 390.56 L577.08 390.94 L578.22 391.32 L578.98 392.08 L579.36 392.84 L579.36 393.98 L578.98 394.74 L578.60 395.12 L577.46 395.50 L575.94 395.50 L574.80 395.12 L574.42 394.74 L574.04 393.98 L574.04 392.84 L574.42 392.08 L575.18 391.32 L576.32 390.94 L577.84 390.56 L578.60 390.18 L578.98 389.42 L578.98 388.66 L578.60 387.90 L577.46 387.52 L575.94 387.52" fill="none" stroke="#000" stroke-width="1"/><path d="M551.30 210.68 L550.46 211.10 L549.62 211.94 L549.20 212.78 L548.78 214.04 L548.78 216.14 L549.20 217.40 L549.62 218.24 L550.46 219.08 L551.30 219.50 L552.98 219.50 L553.82 219.08 L554.66 218.24 L555.08 217.40 L555.50 216.14 L555.50 214.04 L555.08 212.78 L554.66 211.94 L553.82 211.10 L552.98 210.68 L551.30 210.68 M557.60 213.62 L560.12 219.50 M562.64 213.62 L560.12 219.50 M569.78 213.62 L569.78 219.50 M569.78 214.88 L568.94 214.04 L568.10 213.62 L566.84 213.62 L566.00 214.04 L565.16 214.88 L564.74 216.14 L564.74 216.98 L565.16 218.24 L566.00 219.08 L566.84 219.50 L568.10 219.50 L568.94 219.08 L569.78 218.24 M573.56 210.68 L573.56 217.82 L573.98 219.08 L574.82 219.50 L575.66 219.50 M572.30 213.62 L575.24 213.62 M577.76 210.68 L578.18 211.10 L578.60 210.68 L578.18 210.26 L577.76 210.68 M578.18 213.62 L578.18 219.50 M583.22 213.62 L582.38 214.04 L581.54 214.88 L581.12 216.14 L581.12 216.98 L581.54 218.24 L582.38 219.08 L583.22 219.50 L584.48 219.50 L585.32 219.08 L586.16 218.24 L586.58 216.98 L586.58 216.14 L586.16 214.88 L585.32 214.04 L584.48 213.62 L583.22 213.62 M589.52 213.62 L589.52 219.50 M589.52 215.30 L590.78 214.04 L591.62 213.62 L592.88 213.62 L593.72 214.04 L594.14 215.30 L594.14 219.50" fill="none" stroke="#0548ff" stroke-width="1"/><path d="M527.28 222.68 L527.28 231.50 M527.28 222.68 L531.06 222.68 L532.32 223.10 L532.74 223.52 L533.16 224.36 L533.16 225.62 L532.74 226.46 L532.32 226.88 L531.06 227.30 L527.28 227.30 M536.10 225.62 L536.10 231.50 M536.10 228.14 L536.52 226.88 L537.36 226.04 L538.20 225.62 L539.46 225.62 M541.14 222.68 L541.56 223.10 L541.98 222.68 L541.56 222.26 L541.14 222.68 M541.56 225.62 L541.56 231.50 M544.92 225.62 L544.92 231.50 M544.92 227.30 L546.18 226.04 L547.02 225.62 L548.28 225.62 L549.12 226.04 L549.54 227.30 L549.54 231.50 M549.54 227.30 L550.80 226.04 L551.64 225.62 L552.90 225.62 L553.74 226.04 L554.16 227.30 L554.16 231.50 M557.10 228.14 L562.14 228.14 L562.14 227.30 L561.72 226.46 L561.30 226.04 L560.46 225.62 L559.20 225.62 L558.36 226.04 L557.52 226.88 L557.10 228.14 L557.10 228.98 L557.52 230.24 L558.36 231.08 L559.20 231.50 L560.46 231.50 L561.30 231.08 L562.14 230.24 M571.80 222.68 L571.80 231.50 M577.68 222.68 L577.68 231.50 M571.80 226.88 L577.68 226.88 M581.04 222.68 L581.04 231.50 M581.04 222.68 L584.82 222.68 L586.08 223.10 L586.50 223.52 L586.92 224.36 L586.92 225.62 L586.50 226.46 L586.08 226.88 L584.82 227.30 L581.04 227.30 M589.86 222.68 L589.86 231.50" fill="none" stroke="#0548ff" stroke-width="1"/><path d="M559.04 318.94 L558.20 318.10 L556.94 317.68 L555.26 317.68 L554.00 318.10 L553.16 318.94 L553.16 319.78 L553.58 320.62 L554.00 321.04 L554.84 321.46 L557.36 322.30 L558.20 322.72 L558.62 323.14 L559.04 323.98 L559.04 325.24 L558.20 326.08 L556.94 326.50 L555.26 326.50 L554.00 326.08 L553.16 325.24 M561.14 317.68 L563.24 326.50 M565.34 317.68 L563.24 326.50 M565.34 317.68 L567.44 326.50 M569.54 317.68 L567.44 326.50" fill="none" stroke="#000" stroke-width="1"/><path d="M573.06 317.68 L573.06 326.50 M573.06 317.68 L576.84 317.68 L578.10 318.10 L578.52 318.52 L578.94 319.36 L578.94 320.62 L578.52 321.46 L578.10 321.88 L576.84 322.30 L573.06 322.30 M587.76 319.78 L587.34 318.94 L586.50 318.10 L585.66 317.68 L583.98 317.68 L583.14 318.10 L582.30 318.94 L581.88 319.78 L581.46 321.04 L581.46 323.14 L581.88 324.40 L582.30 325.24 L583.14 326.08 L583.98 326.50 L585.66 326.50 L586.50 326.08 L587.34 325.24 L587.76 324.40" fill="none" stroke="#000" stroke-width="1"/><path d="M525.20 329.68 L521.00 329.68 L520.58 333.46 L521.00 333.04 L522.26 332.62 L523.52 332.62 L524.78 333.04 L525.62 333.88 L526.04 335.14 L526.04 335.98 L525.62 337.24 L524.78 338.08 L523.52 338.50 L522.26 338.50 L521.00 338.08 L520.58 337.66 L520.16 336.82 M528.98 334.72 L536.54 334.72 M539.90 332.62 L539.90 338.50 M539.90 334.30 L541.16 333.04 L542.00 332.62 L543.26 332.62 L544.10 333.04 L544.52 334.30 L544.52 338.50 M544.52 334.30 L545.78 333.04 L546.62 332.62 L547.88 332.62 L548.72 333.04 L549.14 334.30 L549.14 338.50 M552.08 329.68 L552.50 330.10 L552.92 329.68 L552.50 329.26 L552.08 329.68 M552.50 332.62 L552.50 338.50 M555.86 332.62 L555.86 338.50 M555.86 334.30 L557.12 333.04 L557.96 332.62 L559.22 332.62 L560.06 333.04 L560.48 334.30 L560.48 338.50 M570.56 329.68 L570.56 338.50 M576.44 329.68 L576.44 338.50 M570.56 333.88 L576.44 333.88 M579.80 329.68 L579.80 338.50 M579.80 329.68 L583.58 329.68 L584.84 330.10 L585.26 330.52 L585.68 331.36 L585.68 332.62 L585.26 333.46 L584.84 333.88 L583.58 334.30 L579.80 334.30 M588.62 329.68 L588.62 338.50" fill="none" stroke="#000" stroke-width="1"/></g>
</svg></body></html>
